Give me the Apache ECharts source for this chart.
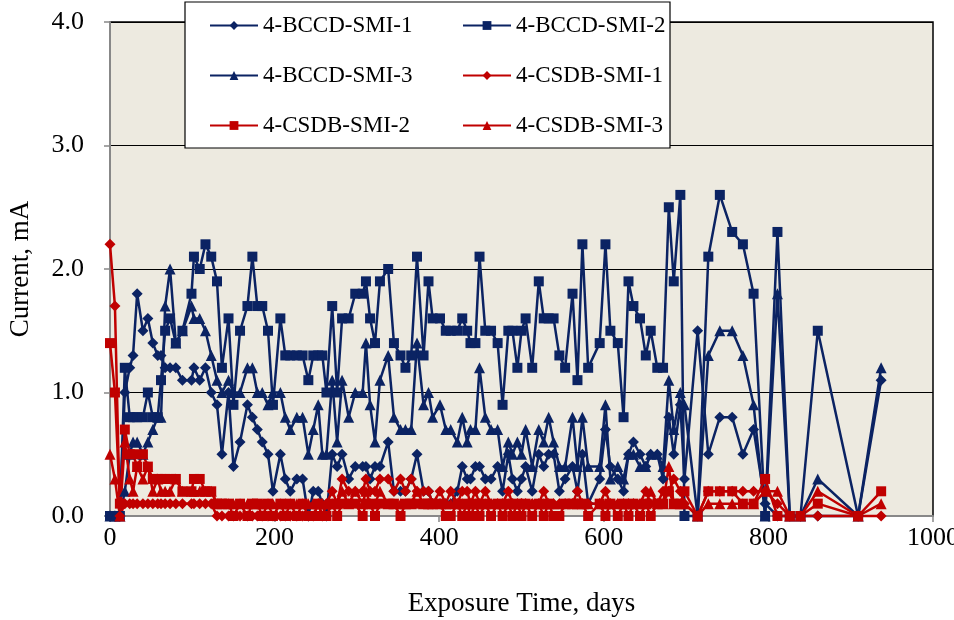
<!DOCTYPE html>
<html>
<head>
<meta charset="utf-8">
<script src="https://cdn.jsdelivr.net/npm/echarts@6/dist/echarts.min.js"></script>
<style>
  html, body { margin: 0; padding: 0; background: #fff; }
  #main { width: 954px; height: 620px; }
</style>
</head>
<body>
<div id="main"></div>
<script>
// exposure days (shared by all specimens)
var days = [0, 6, 12, 18, 24, 28, 33, 40, 46, 52, 58, 62, 67, 73, 80, 88, 99, 102, 109, 116,
  123, 130, 136, 144, 150, 158, 167, 173, 179, 185, 192, 198, 207, 213, 219, 227, 234, 241, 247, 253,
  258, 263, 270, 276, 282, 290, 298, 307, 311, 316, 322, 328, 338, 345, 353, 359, 366, 373, 381, 387,
  392, 401, 408, 414, 422, 428, 434, 438, 444, 449, 456, 463, 471, 477, 484, 489, 495, 500, 505, 513,
  521, 527, 533, 539, 546, 553, 562, 568, 574, 581, 595, 602, 608, 617, 624, 630, 636, 644, 651, 657,
  665, 672, 679, 685, 693, 698, 714, 727, 741, 756, 769, 782, 796, 811, 826, 839, 860, 909, 937];

var bccd1 = [0, 0, 0, 1.0, 1.2, 1.3, 1.8, 1.5, 1.6, 1.4, 1.3, 1.3, 1.2, 1.2, 1.2, 1.1, 1.1, 1.2, 1.1, 1.2,
  1.0, 0.9, 0.5, 1.0, 0.4, 0.6, 0.9, 0.8, 0.7, 0.6, 0.5, 0.2, 0.5, 0.3, 0.2, 0.3, 0.3, 0.0, 0.2, 0.2,
  0.1, 0.0, 0.5, 0.4, 0.5, 0.3, 0.4, 0.4, 0.4, 0.3, 0.4, 0.4, 0.6, 0.2, 0.2, 0.2, 0.3, 0.5, 0.2, 0.2,
  0.1, 0.1, 0.1, 0.1, 0.2, 0.4, 0.3, 0.3, 0.4, 0.4, 0.3, 0.3, 0.4, 0.2, 0.5, 0.3, 0.2, 0.3, 0.4, 0.2,
  0.5, 0.4, 0.5, 0.5, 0.2, 0.3, 0.4, 0.2, 0.5, 0.1, 0.3, 0.7, 0.4, 0.3, 0.2, 0.5, 0.6, 0.5, 0.4, 0.5,
  0.5, 0.3, 0.8, 0.5, 0.9, 0.3, 1.5, 0.5, 0.8, 0.8, 0.5, 0.7, 0.1, 0.0, 0, 0, 0, 0, 1.1];

var bccd2 = [0, 0, 0, 1.2, 0.8, 0.8, 0.8, 0.8, 1.0, 0.8, 0.8, 1.1, 1.5, 1.6, 1.4, 1.5, 1.8, 2.1, 2.0, 2.2,
  2.1, 1.9, 1.2, 1.6, 0.9, 1.5, 1.7, 2.1, 1.7, 1.7, 1.5, 0.9, 1.6, 1.3, 1.3, 1.3, 1.3, 1.1, 1.3, 1.3,
  1.3, 1.0, 1.7, 1.0, 1.6, 1.6, 1.8, 1.8, 1.9, 1.6, 1.4, 1.9, 2.0, 1.4, 1.3, 1.2, 1.3, 2.1, 1.3, 1.9,
  1.6, 1.6, 1.5, 1.5, 1.5, 1.6, 1.5, 1.4, 1.4, 2.1, 1.5, 1.5, 1.4, 0.9, 1.5, 1.5, 1.2, 1.5, 1.6, 1.2,
  1.9, 1.6, 1.6, 1.6, 1.3, 1.2, 1.8, 1.1, 2.2, 1.2, 1.4, 2.2, 1.5, 1.4, 0.8, 1.9, 1.7, 1.6, 1.3, 1.5,
  1.2, 1.2, 2.5, 1.9, 2.6, 0.0, 0.0, 2.1, 2.6, 2.3, 2.2, 1.8, 0.0, 2.3, 0, 0, 1.5, 0, null];

var bccd3 = [0, 0, 0, 0.2, 0.5, 0.6, 0.6, 0.5, 0.6, 0.7, 0.8, 0.8, 1.7, 2.0, 1.4, 1.5, 1.7, 1.6, 1.6, 1.5,
  1.3, 1.1, 1.0, 1.1, 1.0, 1.0, 1.2, 1.2, 1.0, 1.0, 0.9, 1.0, 1.0, 0.8, 0.7, 0.8, 0.8, 0.5, 0.7, 0.9,
  0.5, 0.5, 1.1, 0.6, 1.1, 0.8, 1.0, 1.0, 1.4, 0.9, 0.6, 1.1, 1.3, 0.8, 0.7, 0.7, 0.7, 1.4, 0.9, 1.0,
  0.8, 0.9, 0.7, 0.7, 0.6, 0.8, 0.6, 0.7, 0.7, 1.2, 0.8, 0.7, 0.7, 0.4, 0.6, 0.5, 0.6, 0.5, 0.7, 0.4,
  0.7, 0.6, 0.8, 0.6, 0.4, 0.4, 0.8, 0.4, 0.8, 0.4, 0.4, 0.9, 0.3, 0.4, 0.3, 0.5, 0.5, 0.4, 0.4, 0.5,
  0.5, 0.4, 1.1, 0.7, 1.0, 0.9, 0.0, 1.3, 1.5, 1.5, 1.3, 0.9, 0.0, 1.8, 0, 0, 0.3, 0, 1.2];

var csdb1 = [2.2, 1.7, 0.0, 0.1, 0.1, 0.1, 0.1, 0.1, 0.1, 0.1, 0.1, 0.1, 0.1, 0.1, 0.1, 0.1, 0.1, 0.1, 0.1, 0.1,
  0.1, 0.0, 0.0, 0.0, 0.0, 0.0, 0.0, 0.0, 0.0, 0.0, 0.0, 0.0, 0.0, 0.0, 0.0, 0.0, 0.0, 0.0, 0.0, 0.1,
  0.0, 0.1, 0.2, 0.1, 0.3, 0.2, 0.2, 0.2, 0.3, 0.2, 0.2, 0.3, 0.3, 0.2, 0.3, 0.2, 0.3, 0.2, 0.2, 0.2,
  0.1, 0.2, 0.1, 0.2, 0.1, 0.2, 0.2, 0.1, 0.2, 0.1, 0.2, 0.1, 0.1, 0.1, 0.2, 0.1, 0.1, 0.1, 0.1, 0.1,
  0.1, 0.2, 0.1, 0.1, 0.1, 0.1, 0.1, 0.2, 0.1, 0.1, 0.1, 0.2, 0.1, 0.1, 0.1, 0.1, 0.1, 0.1, 0.2, 0.1,
  0.1, 0.2, 0.2, 0.3, 0.2, 0.1, 0.0, 0.2, 0.2, 0.2, 0.2, 0.2, 0.2, 0.1, 0.0, 0.0, 0.0, 0.0, 0.0];

var csdb2 = [1.4, 1.0, 0.1, 0.7, 0.5, 0.5, 0.4, 0.5, 0.4, 0.3, 0.3, 0.3, 0.3, 0.3, 0.3, 0.2, 0.2, 0.3, 0.3, 0.2,
  0.2, 0.1, 0.1, 0.1, 0.0, 0.1, 0.0, 0.1, 0.1, 0.0, 0.1, 0.0, 0.1, 0.0, 0.1, 0.0, 0.1, 0.0, 0.0, 0.1,
  0.0, 0.0, 0.1, 0.0, 0.1, 0.1, 0.1, 0.0, 0.1, 0.1, 0.0, 0.1, 0.1, 0.1, 0.0, 0.1, 0.1, 0.1, 0.1, 0.1,
  0.1, 0.1, 0.0, 0.0, 0.1, 0.0, 0.1, 0.0, 0.1, 0.0, 0.1, 0.0, 0.1, 0.0, 0.1, 0.0, 0.1, 0.0, 0.1, 0.0,
  0.1, 0.0, 0.1, 0.0, 0.0, 0.1, 0.1, 0.1, 0.1, 0.0, 0.1, 0.0, 0.1, 0.0, 0.1, 0.0, 0.1, 0.0, 0.1, 0.0,
  0.1, 0.1, 0.2, 0.1, 0.1, 0.2, 0.0, 0.2, 0.2, 0.2, 0.1, 0.1, 0.3, 0.0, 0.0, 0.0, 0.1, 0.0, 0.2];

var csdb3 = [0.5, 0.3, 0.0, 0.6, 0.3, 0.2, 0.4, 0.3, 0.4, 0.2, 0.3, 0.2, 0.2, 0.2, 0.3, 0.2, 0.2, 0.2, 0.2, 0.2,
  0.2, 0.1, 0.1, 0.1, 0.1, 0.1, 0.1, 0.1, 0.1, 0.1, 0.1, 0.1, 0.1, 0.1, 0.1, 0.1, 0.1, 0.1, 0.1, 0.1,
  0.1, 0.1, 0.1, 0.1, 0.2, 0.1, 0.2, 0.1, 0.2, 0.1, 0.1, 0.2, 0.1, 0.1, 0.1, 0.1, 0.1, 0.2, 0.1, 0.1,
  0.1, 0.1, 0.1, 0.1, 0.1, 0.1, 0.1, 0.1, 0.1, 0.1, 0.1, 0.1, 0.1, 0.1, 0.1, 0.1, 0.1, 0.1, 0.1, 0.1,
  0.1, 0.1, 0.1, 0.1, 0.1, 0.1, 0.1, 0.1, 0.1, 0.1, 0.1, 0.1, 0.1, 0.1, 0.1, 0.1, 0.1, 0.1, 0.1, 0.2,
  0.1, 0.1, 0.4, 0.1, 0.1, 0.1, 0.0, 0.1, 0.1, 0.1, 0.1, 0.1, 0.2, 0.2, 0.0, 0.0, 0.2, 0.0, 0.1];

var names = ['4-BCCD-SMI-1', '4-BCCD-SMI-2', '4-BCCD-SMI-3', '4-CSDB-SMI-1', '4-CSDB-SMI-2', '4-CSDB-SMI-3'];
var values = [bccd1, bccd2, bccd3, csdb1, csdb2, csdb3];
var symbols = ['diamond', 'rect', 'triangle', 'diamond', 'rect', 'triangle'];
var sizes = [11, 10, 11, 11, 10, 11];
var blue = '#0B2363', red = '#C00000';
var colors = [blue, blue, blue, red, red, red];

var font = '"Liberation Serif", "Times New Roman", serif';

function pairs(v) {
    var out = [];
    for (var i = 0; i < days.length; i++) {
        if (v[i] != null) out.push([days[i], v[i]]);
    }
    return out;
}

var series = names.map(function (n, i) {
    return {
        name: n,
        type: 'line',
        data: pairs(values[i]),
        symbol: symbols[i],
        symbolSize: sizes[i],
        color: colors[i],
        lineStyle: { width: 2.5, color: colors[i] },
        itemStyle: { color: colors[i] },
        clip: false,
        animation: false
    };
});

// legend: one per item, 3 rows x 2 columns
var legendPos = [[209, 14], [462, 14], [209, 64], [462, 64], [209, 114], [462, 114]];
var legends = names.map(function (n, i) {
    return {
        data: [n],
        left: legendPos[i][0],
        top: legendPos[i][1],
        padding: 0,
        itemWidth: 48,
        itemHeight: 11,
        itemGap: 4,
        z: 10,
        textStyle: { fontFamily: font, fontSize: 23, color: '#000' },
        selectedMode: false
    };
});

var dom = document.getElementById('main');
var myChart = echarts.init(dom, null, { renderer: 'canvas' });

var option = {
    backgroundColor: '#fff',
    animation: false,
    grid: {
        left: 110, right: 21, top: 22, bottom: 104,
        outerBoundsMode: 'none',
        containLabel: false,
        show: true,
        backgroundColor: '#EDEAE0',
        borderColor: '#000',
        borderWidth: 1.5
    },
    graphic: [{
        type: 'rect',
        z: 5,
        shape: { x: 185, y: 2, width: 485, height: 146 },
        style: { fill: '#fff', stroke: '#000', lineWidth: 1.2 }
    }],
    legend: legends,
    xAxis: {
        type: 'value',
        min: 0, max: 1000, interval: 200,
        name: 'Exposure Time, days',
        nameLocation: 'middle',
        nameGap: 74,
        nameTextStyle: { fontFamily: font, fontSize: 27, color: '#000' },
        axisLine: { onZero: false, lineStyle: { color: '#888', width: 2 } },
        axisTick: { show: true, inside: false, length: 6, lineStyle: { color: '#888', width: 1.5 } },
        axisLabel: {
            fontFamily: font, fontSize: 26, color: '#000', margin: 9,
            formatter: function (v) { return String(v); }
        },
        splitLine: { show: false }
    },
    yAxis: {
        type: 'value',
        min: 0, max: 4, interval: 1,
        name: 'Current, mA',
        nameLocation: 'middle',
        nameGap: 76,
        nameTextStyle: { fontFamily: font, fontSize: 27, color: '#000' },
        axisLine: { show: true, lineStyle: { color: '#888', width: 2 } },
        axisTick: { show: true, inside: false, length: 6, lineStyle: { color: '#888', width: 1.5 } },
        axisLabel: {
            fontFamily: font, fontSize: 26, color: '#000', margin: 26,
            formatter: function (v) { return v.toFixed(1); }
        },
        splitLine: { show: true, lineStyle: { color: '#000', width: 1.2 } }
    },
    series: series
};

myChart.setOption(option);
window.addEventListener('resize', myChart.resize);
</script>
</body>
</html>
